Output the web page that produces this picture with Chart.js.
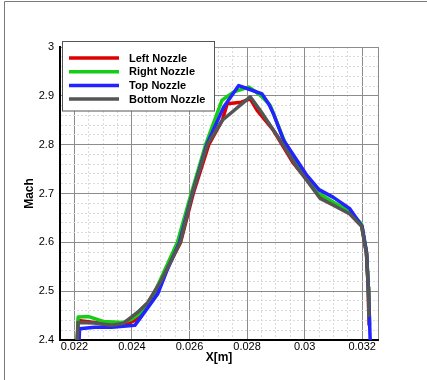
<!DOCTYPE html>
<html>
<head>
<meta charset="utf-8">
<script src="https://cdn.jsdelivr.net/npm/chart.js@4/dist/chart.umd.min.js"></script>
<style>
  html, body { margin: 0; padding: 0; background: #fff; }
  #wrap { width: 427px; height: 380px; position: relative; }
</style>
</head>
<body>
<div id="wrap"><canvas id="myChart" width="427" height="380"></canvas></div>
<script>
// Mach number along X for the four nozzles
var leftX = [0.0221, 0.02213, 0.0227, 0.0233, 0.0237, 0.0241, 0.0245, 0.0249, 0.0252, 0.02569, 0.02613, 0.02667, 0.02714, 0.02731, 0.0278, 0.02811, 0.02835, 0.02892, 0.02961, 0.03008, 0.0305, 0.031, 0.03157, 0.03198, 0.03215, 0.03221, 0.03224];
var leftMach = [2.40, 2.44, 2.436, 2.43, 2.43, 2.44, 2.467, 2.50, 2.545, 2.60, 2.70, 2.80, 2.85, 2.884, 2.887, 2.894, 2.87, 2.829, 2.762, 2.728, 2.695, 2.679, 2.661, 2.635, 2.577, 2.508, 2.43];

var rightX = [0.0221, 0.02213, 0.0225, 0.023, 0.0237, 0.024, 0.0244, 0.02465, 0.025, 0.02558, 0.02606, 0.02656, 0.02713, 0.02754, 0.02806, 0.02823, 0.02852, 0.02881, 0.02915, 0.02938, 0.02973, 0.03008, 0.0305, 0.031, 0.03157, 0.03198, 0.03215, 0.03222, 0.03226];
var rightMach = [2.40, 2.447, 2.448, 2.438, 2.436, 2.443, 2.46, 2.481, 2.525, 2.60, 2.70, 2.80, 2.891, 2.908, 2.918, 2.911, 2.898, 2.88, 2.829, 2.795, 2.761, 2.734, 2.70, 2.682, 2.664, 2.637, 2.58, 2.50, 2.43];

var topX = [0.02215, 0.02218, 0.0227, 0.0233, 0.0237, 0.0241, 0.0244, 0.0249, 0.0252, 0.02565, 0.0261, 0.0266, 0.02708, 0.02719, 0.02771, 0.028, 0.02852, 0.02875, 0.02892, 0.02927, 0.02973, 0.03008, 0.0305, 0.031, 0.03157, 0.032, 0.03215, 0.03222, 0.03229];
var topMach = [2.38, 2.423, 2.426, 2.426, 2.428, 2.43, 2.454, 2.495, 2.54, 2.60, 2.70, 2.80, 2.863, 2.877, 2.921, 2.915, 2.904, 2.884, 2.863, 2.809, 2.768, 2.737, 2.708, 2.692, 2.669, 2.632, 2.58, 2.50, 2.38];

var bottomX = [0.0221, 0.02213, 0.0227, 0.0233, 0.0237, 0.0242, 0.02455, 0.025, 0.02568, 0.0261, 0.02662, 0.02714, 0.02811, 0.02846, 0.02915, 0.02973, 0.03008, 0.03054, 0.031, 0.03157, 0.03198, 0.03215, 0.03221, 0.03223];
var bottomMach = [2.40, 2.436, 2.435, 2.43, 2.434, 2.457, 2.477, 2.52, 2.60, 2.70, 2.80, 2.85, 2.898, 2.87, 2.809, 2.754, 2.727, 2.69, 2.676, 2.658, 2.633, 2.577, 2.508, 2.45];

var seriesNames = ['Left Nozzle', 'Right Nozzle', 'Top Nozzle', 'Bottom Nozzle'];
var seriesColors = ['rgb(222,0,0)', 'rgb(20,205,20)', 'rgb(35,35,255)', 'rgb(85,85,85)'];

var xMin = 0.0215, xMax = 0.03255, xStep = 0.0005, xMajor = 0.002;
var yMin = 2.4, yMax = 3.0, yStep = 0.02, yMajor = 0.1;

function pts(xs, ys) {
  return xs.map(function (x, i) { return { x: x, y: ys[i] }; });
}

function isMajor(v, step) {
  var r = v / step;
  return Math.abs(r - Math.round(r)) < 1e-6;
}

// grid: solid for major lines and edges, dotted for minor ones
function gridColor(min, max, major) {
  return function (c) {
    if (!c.tick) return '#999';
    var v = c.tick.value;
    if (isMajor(v, major) || Math.abs(v - max) < 1e-9) return '#8c8c8c';
    return '#dadada';
  };
}
function gridDash(max, major) {
  return function (c) {
    if (!c.tick) return [];
    var v = c.tick.value;
    if (isMajor(v, major) || Math.abs(v - max) < 1e-9) return [];
    return [2, 2];
  };
}

var datasets = [
  { data: pts(leftX, leftMach), order: 4 },
  { data: pts(rightX, rightMach), order: 3 },
  { data: pts(topX, topMach), order: 2 },
  { data: pts(bottomX, bottomMach), order: 1 }
].map(function (d, i) {
  d.label = seriesNames[i];
  d.borderColor = seriesColors[i];
  d.backgroundColor = seriesColors[i];
  d.borderWidth = 3.5;
  d.pointRadius = 0;
  d.tension = 0;
  d.borderJoinStyle = 'round';
  d.fill = false;
  return d;
});

// frame of the figure and the boxed legend in the top-left corner
var decorations = {
  id: 'decorations',
  beforeDraw: function (chart) {
    var ctx = chart.ctx;
    ctx.save();
    ctx.strokeStyle = '#7a7a7a';
    ctx.lineWidth = 1;
    ctx.beginPath();
    ctx.moveTo(4.5, 380);
    ctx.lineTo(4.5, 1.5);
    ctx.lineTo(427, 1.5);
    ctx.stroke();
    ctx.restore();
  },
  afterDraw: function (chart) {
    var ctx = chart.ctx;
    ctx.save();
    ctx.fillStyle = '#fff';
    ctx.fillRect(62, 41.5, 152, 69.5);
    ctx.strokeStyle = '#555';
    ctx.lineWidth = 1;
    ctx.strokeRect(62.5, 41.5, 152, 69.5);
    ctx.font = 'bold 11px "Liberation Sans", Arial, sans-serif';
    ctx.textBaseline = 'middle';
    ctx.textAlign = 'left';
    for (var i = 0; i < seriesNames.length; i++) {
      var y = 58 + i * 13.7;
      ctx.strokeStyle = seriesColors[i];
      ctx.lineWidth = 3.5;
      ctx.beginPath();
      ctx.moveTo(69, y);
      ctx.lineTo(119, y);
      ctx.stroke();
      ctx.fillStyle = '#000';
      ctx.fillText(seriesNames[i], 129, y + 0.5);
    }
    ctx.restore();
  }
};

var ctx = document.getElementById('myChart').getContext('2d');
var myChart = new Chart(ctx, {
  type: 'line',
  data: { datasets: datasets },
  plugins: [decorations],
  options: {
    responsive: false,
    animation: false,
    layout: { padding: { left: 22, top: 47, right: 49, bottom: 15 } },
    plugins: { legend: { display: false }, tooltip: { enabled: false } },
    scales: {
      x: {
        type: 'linear',
        min: xMin,
        max: xMax,
        afterFit: function (s) { s.height = 25; },
        ticks: {
          stepSize: xStep,
          autoSkip: false,
          maxRotation: 0,
          padding: 0,
          color: '#000',
          font: { family: '"Liberation Sans", Arial, sans-serif', size: 11 },
          callback: function (v) {
            if (!isMajor(v, xMajor)) return '';
            return String(parseFloat(v.toFixed(3)));
          }
        },
        grid: {
          drawTicks: false,
          color: gridColor(xMin, xMax, xMajor),
          lineWidth: 1,
          borderDash: gridDash(xMax, xMajor)
        },
        border: { color: '#000', width: 2, dash: gridDash(xMax, xMajor) },
        title: {
          display: true,
          text: 'X[m]',
          color: '#000',
          padding: 0,
          font: { family: '"Liberation Sans", Arial, sans-serif', size: 12, weight: 'bold' }
        }
      },
      y: {
        min: yMin,
        max: yMax,
        afterFit: function (s) { s.width = 38; },
        ticks: {
          stepSize: yStep,
          autoSkip: false,
          padding: 6,
          color: '#000',
          font: { family: '"Liberation Sans", Arial, sans-serif', size: 11 },
          callback: function (v) {
            if (!isMajor(v, yMajor)) return '';
            return String(parseFloat(v.toFixed(1)));
          }
        },
        grid: {
          drawTicks: false,
          color: gridColor(yMin, yMax, yMajor),
          lineWidth: 1,
          borderDash: gridDash(yMax, yMajor)
        },
        border: { color: '#000', width: 2, dash: gridDash(yMax, yMajor) },
        title: {
          display: true,
          text: 'Mach',
          color: '#000',
          padding: 0,
          font: { family: '"Liberation Sans", Arial, sans-serif', size: 12, weight: 'bold' }
        }
      }
    }
  }
});
</script>
</body>
</html>
